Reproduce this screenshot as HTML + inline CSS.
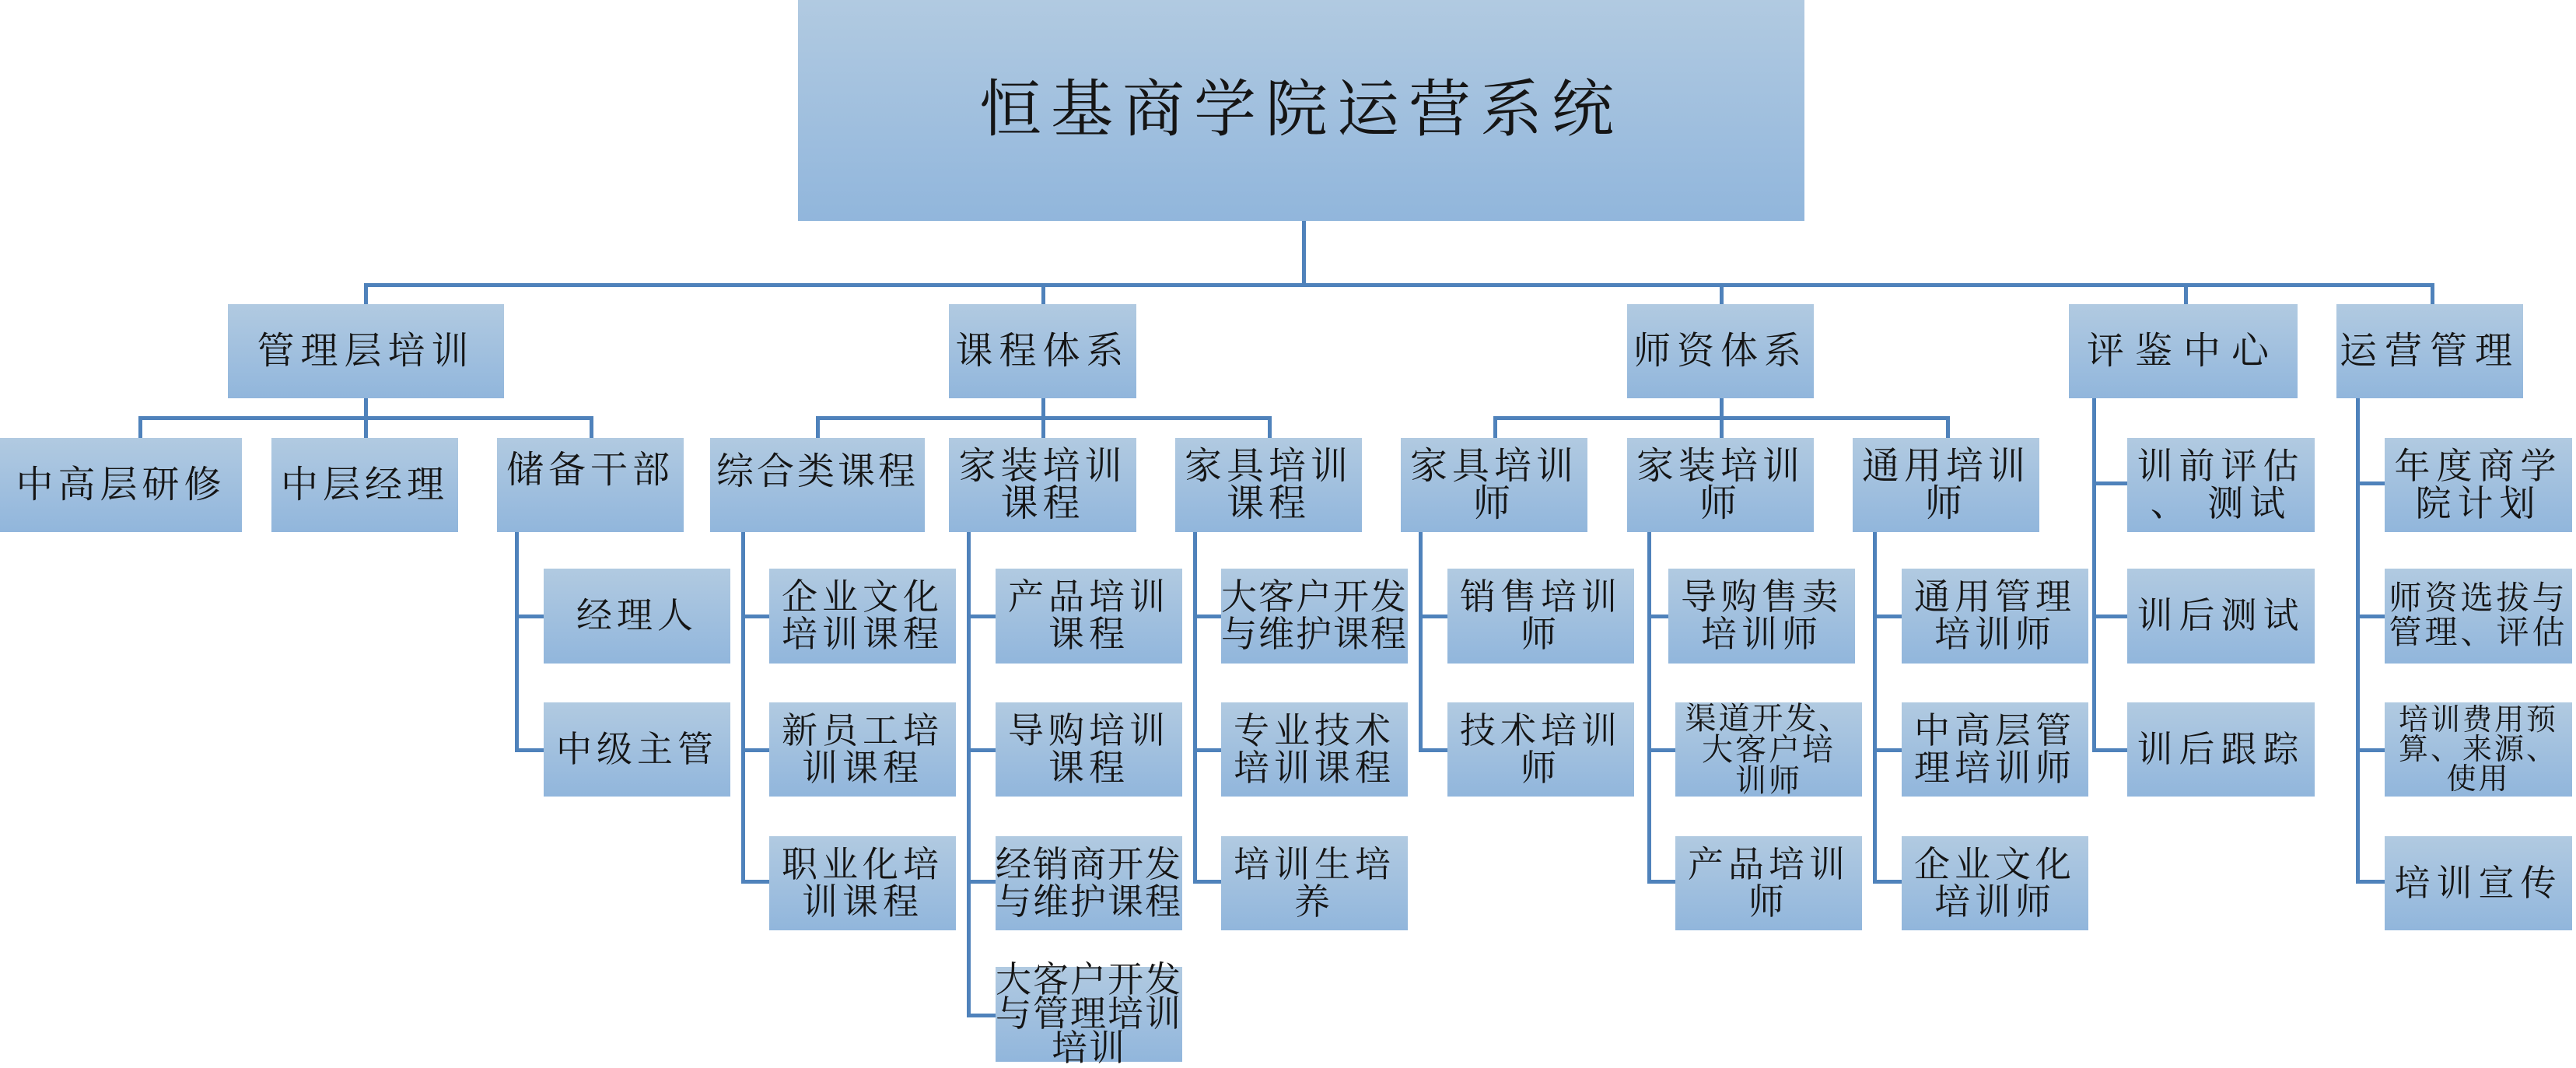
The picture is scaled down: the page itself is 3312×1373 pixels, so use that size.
<!DOCTYPE html>
<html><head><meta charset="utf-8"><style>
html,body{margin:0;padding:0;background:#fff;}
body{width:3312px;height:1372px;position:relative;overflow:hidden;}
.b{position:absolute;display:flex;align-items:center;justify-content:center;text-align:center;background:linear-gradient(#b1cae1,#91b6dc);font-family:"Liberation Serif","Noto Serif CJK SC",serif;color:#151515;font-size:46px;line-height:48px;letter-spacing:6px;box-sizing:border-box;padding:0 4px;}
.l2{font-size:48px;letter-spacing:8px;}
.l3{font-size:48px;letter-spacing:6px;}
.h{position:absolute;height:5px;background:#4f82bb;}
.v{position:absolute;width:5px;background:#4f82bb;}
</style></head><body>

<div class="b" style="left:1026px;top:0;width:1294px;height:284px;font-size:80px;letter-spacing:12px;">恒基商学院运营系统</div>

<!-- top connectors -->
<div class="v" style="left:1674px;top:284px;height:84px"></div>
<div class="h" style="left:468px;top:364px;width:2662px"></div>
<div class="v" style="left:468px;top:364px;height:27px"></div>
<div class="v" style="left:1339px;top:364px;height:27px"></div>
<div class="v" style="left:2211px;top:364px;height:27px"></div>
<div class="v" style="left:2808px;top:364px;height:27px"></div>
<div class="v" style="left:3125px;top:364px;height:27px"></div>

<!-- level 2 -->
<div class="b l2" style="left:293px;top:391px;width:355px;height:121px">管理层培训</div>
<div class="b l2" style="left:1220px;top:391px;width:241px;height:121px">课程体系</div>
<div class="b l2" style="left:2092px;top:391px;width:240px;height:121px">师资体系</div>
<div class="b l2" style="left:2660px;top:391px;width:294px;height:121px;letter-spacing:14px">评鉴中心</div>
<div class="b l2" style="left:3004px;top:391px;width:240px;height:121px;letter-spacing:10px">运营管理</div>

<!-- level 2 -> 3 connectors -->
<div class="v" style="left:468px;top:512px;height:27px"></div>
<div class="h" style="left:178px;top:535px;width:585px"></div>
<div class="v" style="left:178px;top:535px;height:28px"></div>
<div class="v" style="left:468px;top:535px;height:28px"></div>
<div class="v" style="left:758px;top:535px;height:28px"></div>

<div class="v" style="left:1339px;top:512px;height:27px"></div>
<div class="h" style="left:1049px;top:535px;width:586px"></div>
<div class="v" style="left:1049px;top:535px;height:28px"></div>
<div class="v" style="left:1339px;top:535px;height:28px"></div>
<div class="v" style="left:1630px;top:535px;height:28px"></div>

<div class="v" style="left:2211px;top:512px;height:27px"></div>
<div class="h" style="left:1920px;top:535px;width:587px"></div>
<div class="v" style="left:1920px;top:535px;height:28px"></div>
<div class="v" style="left:2211px;top:535px;height:28px"></div>
<div class="v" style="left:2502px;top:535px;height:28px"></div>

<!-- level 3 -->
<div class="b l3" style="left:0;top:563px;width:311px;height:121px">中高层研修</div>
<div class="b l3" style="left:349px;top:563px;width:240px;height:121px">中层经理</div>
<div class="b l3" style="left:639px;top:563px;width:240px;height:121px;align-items:flex-start;padding-top:18px">储备干部</div>
<div class="b l3" style="left:913px;top:563px;width:276px;height:121px;align-items:flex-start;padding-top:20px;letter-spacing:4px">综合类课程</div>
<div class="b l3" style="left:1220px;top:563px;width:241px;height:121px">家装培训<br>课程</div>
<div class="b l3" style="left:1511px;top:563px;width:240px;height:121px">家具培训<br>课程</div>
<div class="b l3" style="left:1801px;top:563px;width:240px;height:121px">家具培训<br>师</div>
<div class="b l3" style="left:2092px;top:563px;width:240px;height:121px">家装培训<br>师</div>
<div class="b l3" style="left:2382px;top:563px;width:240px;height:121px">通用培训<br>师</div>

<!-- 储备干部 children -->
<div class="v" style="left:662px;top:684px;height:283px"></div>
<div class="h" style="left:662px;top:790px;width:37px"></div>
<div class="h" style="left:662px;top:962px;width:37px"></div>
<div class="b" style="left:699px;top:731px;width:240px;height:122px">经理人</div>
<div class="b" style="left:699px;top:903px;width:240px;height:121px">中级主管</div>

<!-- 综合类课程 children -->
<div class="v" style="left:953px;top:684px;height:452px"></div>
<div class="h" style="left:953px;top:790px;width:36px"></div>
<div class="h" style="left:953px;top:962px;width:36px"></div>
<div class="h" style="left:953px;top:1131px;width:36px"></div>
<div class="b" style="left:989px;top:731px;width:240px;height:122px">企业文化<br>培训课程</div>
<div class="b" style="left:989px;top:903px;width:240px;height:121px">新员工培<br>训课程</div>
<div class="b" style="left:989px;top:1075px;width:240px;height:121px">职业化培<br>训课程</div>

<!-- 家装培训课程 children -->
<div class="v" style="left:1243px;top:684px;height:624px"></div>
<div class="h" style="left:1243px;top:790px;width:37px"></div>
<div class="h" style="left:1243px;top:962px;width:37px"></div>
<div class="h" style="left:1243px;top:1131px;width:37px"></div>
<div class="h" style="left:1243px;top:1303px;width:37px"></div>
<div class="b" style="left:1280px;top:731px;width:240px;height:122px">产品培训<br>课程</div>
<div class="b" style="left:1280px;top:903px;width:240px;height:121px">导购培训<br>课程</div>
<div class="b" style="left:1280px;top:1075px;width:240px;height:121px;letter-spacing:2px;padding:0">经销商开发<br>与维护课程</div>
<div class="b" style="left:1280px;top:1243px;width:240px;height:122px;letter-spacing:2px;padding:0;line-height:44px">大客户开发<br>与管理培训<br>培训</div>

<!-- 家具培训课程 children -->
<div class="v" style="left:1534px;top:684px;height:452px"></div>
<div class="h" style="left:1534px;top:790px;width:36px"></div>
<div class="h" style="left:1534px;top:962px;width:36px"></div>
<div class="h" style="left:1534px;top:1131px;width:36px"></div>
<div class="b" style="left:1570px;top:731px;width:240px;height:122px;letter-spacing:2px;padding:0">大客户开发<br>与维护课程</div>
<div class="b" style="left:1570px;top:903px;width:240px;height:121px">专业技术<br>培训课程</div>
<div class="b" style="left:1570px;top:1075px;width:240px;height:121px">培训生培<br>养</div>

<!-- 家具培训师 children -->
<div class="v" style="left:1824px;top:684px;height:283px"></div>
<div class="h" style="left:1824px;top:790px;width:37px"></div>
<div class="h" style="left:1824px;top:962px;width:37px"></div>
<div class="b" style="left:1861px;top:731px;width:240px;height:122px">销售培训<br>师</div>
<div class="b" style="left:1861px;top:903px;width:240px;height:121px">技术培训<br>师</div>

<!-- 家装培训师 children -->
<div class="v" style="left:2118px;top:684px;height:452px"></div>
<div class="h" style="left:2118px;top:790px;width:27px"></div>
<div class="h" style="left:2118px;top:962px;width:36px"></div>
<div class="h" style="left:2118px;top:1131px;width:36px"></div>
<div class="b" style="left:2145px;top:731px;width:240px;height:122px">导购售卖<br>培训师</div>
<div class="b" style="left:2154px;top:903px;width:240px;height:121px;font-size:40px;line-height:40px;letter-spacing:3px">渠道开发、<br>大客户培<br>训师</div>
<div class="b" style="left:2154px;top:1075px;width:240px;height:121px">产品培训<br>师</div>

<!-- 通用培训师 children -->
<div class="v" style="left:2408px;top:684px;height:452px"></div>
<div class="h" style="left:2408px;top:790px;width:37px"></div>
<div class="h" style="left:2408px;top:962px;width:37px"></div>
<div class="h" style="left:2408px;top:1131px;width:37px"></div>
<div class="b" style="left:2445px;top:731px;width:240px;height:122px">通用管理<br>培训师</div>
<div class="b" style="left:2445px;top:903px;width:240px;height:121px">中高层管<br>理培训师</div>
<div class="b" style="left:2445px;top:1075px;width:240px;height:121px">企业文化<br>培训师</div>

<!-- 评鉴中心 children -->
<div class="v" style="left:2690px;top:512px;height:455px"></div>
<div class="h" style="left:2690px;top:619px;width:45px"></div>
<div class="h" style="left:2690px;top:790px;width:45px"></div>
<div class="h" style="left:2690px;top:962px;width:45px"></div>
<div class="b" style="left:2735px;top:563px;width:241px;height:121px;letter-spacing:8px">训前评估<br>、 测试</div>
<div class="b" style="left:2735px;top:731px;width:241px;height:122px;letter-spacing:8px">训后测试</div>
<div class="b" style="left:2735px;top:903px;width:241px;height:121px;letter-spacing:8px">训后跟踪</div>

<!-- 运营管理 children -->
<div class="v" style="left:3029px;top:512px;height:624px"></div>
<div class="h" style="left:3029px;top:619px;width:37px"></div>
<div class="h" style="left:3029px;top:790px;width:37px"></div>
<div class="h" style="left:3029px;top:962px;width:37px"></div>
<div class="h" style="left:3029px;top:1131px;width:37px"></div>
<div class="b" style="left:3066px;top:563px;width:241px;height:121px;letter-spacing:8px">年度商学<br>院计划</div>
<div class="b" style="left:3066px;top:731px;width:241px;height:122px;font-size:42px;line-height:44px;letter-spacing:4px;padding:0">师资选拔与<br>管理、评估</div>
<div class="b" style="left:3066px;top:903px;width:241px;height:121px;font-size:38px;line-height:38px;letter-spacing:3px;padding:0">培训费用预<br>算、来源、<br>使用</div>
<div class="b" style="left:3066px;top:1075px;width:241px;height:121px;letter-spacing:8px">培训宣传</div>

</body></html>
